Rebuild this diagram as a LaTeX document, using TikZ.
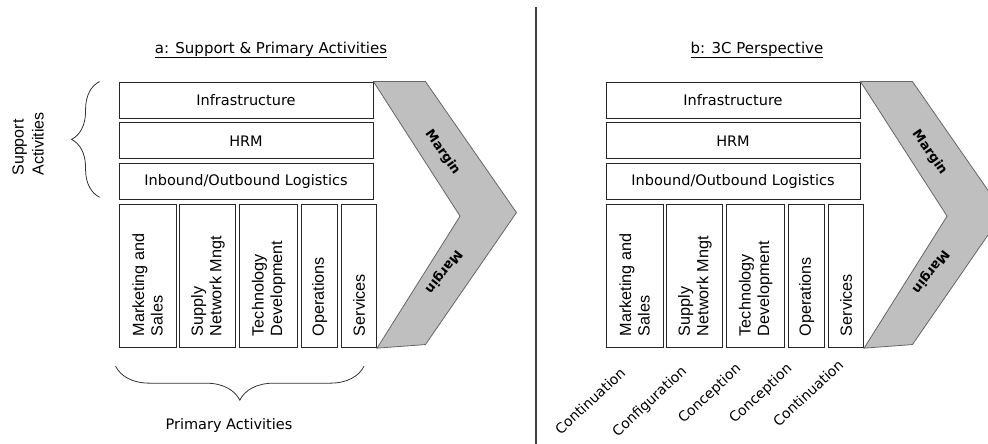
\documentclass[tikz,border=0pt]{standalone}
\usepackage{fontspec}
\setmainfont{DejaVu Sans}
\newfontfamily\arialfont{Liberation Sans}
\usetikzlibrary{positioning,decorations.pathreplacing}
\newcommand{\coltext}[1]{\rotatebox{90}{\parbox{120pt}{\raggedright #1}}}

\begin{document}
\begin{tikzpicture}[x=1pt, y=-1pt, line width=0.9pt,
  sbox/.style={draw=black!85, fill=white, minimum width=254pt, minimum height=36pt, inner sep=0pt, font=\fontsize{14.5}{17}\selectfont},
  pcol/.style={draw=black!85, fill=white, minimum height=143pt, inner sep=0pt, font=\arialfont\fontsize{16.2}{18.5}\selectfont},
  chev/.style={draw=black!60, fill=black!25, line width=0.8pt},
  marg/.style={font=\bfseries\fontsize{13}{15}\selectfont},
  brc/.style={decorate, draw=black!80, line width=0.8pt},
  ttl/.style={font=\fontsize{15}{18}\selectfont},
  phase/.style={rotate=43, font=\fontsize{14}{16}\selectfont}]
\useasboundingbox (0,0) rectangle (988,444);

% a: support and primary activities
\node[ttl] (a-title) at (271,50) {\underline{a: Support \& Primary Activities}};
\node[sbox] (a-inf) at (246,100) {Infrastructure};
\node[sbox, below=4pt of a-inf] (a-hrm) {HRM};
\node[sbox, below=4pt of a-hrm] (a-log) {Inbound/Outbound Logistics};
\node[pcol, minimum width=57pt, anchor=north west] (a-mkt) at ([yshift=-4pt]a-log.south west) {\coltext{Marketing and\\Sales}};
\node[pcol, minimum width=56pt, right=3pt of a-mkt] (a-scm) {\coltext{Supply\\Network Mngt}};
\node[pcol, minimum width=58pt, right=3pt of a-scm] (a-tec) {\coltext{Technology\\Development}};
\node[pcol, minimum width=36pt, right=3pt of a-tec] (a-ops) {\coltext{Operations}};
\node[pcol, minimum width=35pt, right=3pt of a-ops] (a-svc) {\coltext{Services}};

\draw[chev] (a-inf.north east) -- ++(52,0) -- ++(91,131) -- ++(-91,132) -- (a-svc.south east) -- ++(83,-132) -- cycle;
\node[marg, rotate=-55] (a-m1) at ([shift={(69,71)}]a-inf.north east) {Margin};
\node[marg, rotate=232] (a-m2) at ([shift={(70,190)}]a-inf.north east) {Margin};

\draw[brc, decoration={brace, amplitude=28pt}] ([shift={(-19,-3)}]a-log.south west) -- ([xshift=-19pt]a-inf.north west);
\node[rotate=90, align=left, font=\arialfont\fontsize{16}{20}\selectfont] (a-sup) at (28,144) {Support\\Activities};
\draw[brc, decoration={brace, amplitude=34pt}] ([shift={(-13,18)}]a-svc.south east) -- ([shift={(-3,18)}]a-mkt.south west);
\node[ttl, font=\fontsize{14.5}{17}\selectfont] (a-pri) at (229,425) {Primary Activities};

% divider
\draw[draw=black!75, line width=1.3pt] (536,7) -- (536,444);

% b: 3C perspective
\node[ttl] (b-title) at (757,50) {\underline{b: 3C Perspective}};
\node[sbox] (b-inf) at (733,100) {Infrastructure};
\node[sbox, below=4pt of b-inf] (b-hrm) {HRM};
\node[sbox, below=4pt of b-hrm] (b-log) {Inbound/Outbound Logistics};
\node[pcol, minimum width=57pt, anchor=north west] (b-mkt) at ([yshift=-4pt]b-log.south west) {\coltext{Marketing and\\Sales}};
\node[pcol, minimum width=56pt, right=3pt of b-mkt] (b-scm) {\coltext{Supply\\Network Mngt}};
\node[pcol, minimum width=58pt, right=3pt of b-scm] (b-tec) {\coltext{Technology\\Development}};
\node[pcol, minimum width=36pt, right=3pt of b-tec] (b-ops) {\coltext{Operations}};
\node[pcol, minimum width=35pt, right=3pt of b-ops] (b-svc) {\coltext{Services}};

\draw[chev] (b-inf.north east) -- ++(52,0) -- ++(91,131) -- ++(-91,132) -- (b-svc.south east) -- ++(83,-132) -- cycle;
\node[marg, rotate=-55] (b-m1) at ([shift={(69,71)}]b-inf.north east) {Margin};
\node[marg, rotate=232] (b-m2) at ([shift={(70,190)}]b-inf.north east) {Margin};

\node[phase] (b-ph1) at (590,401) {Continuation};
\node[phase] (b-ph2) at (650,402) {Configuration};
\node[phase] (b-ph3) at (710,394) {Conception};
\node[phase] (b-ph4) at (761,394) {Conception};
\node[phase] (b-ph5) at (808,393) {Continuation};
\end{tikzpicture}
\end{document}
